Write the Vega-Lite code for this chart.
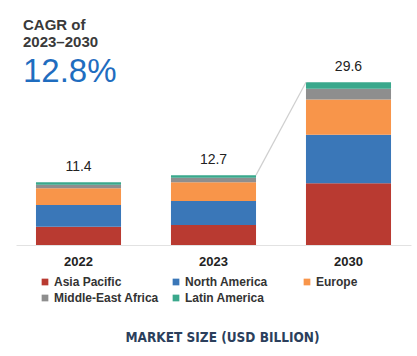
{
  "$schema": "https://vega.github.io/schema/vega-lite/v6.json",
  "width": 395,
  "height": 165,
  "autosize": {"type": "none"},
  "padding": {"left": 16, "top": 80, "right": 6, "bottom": 111},
  "background": "white",
  "config": {"view": {"stroke": null}, "font": "Liberation Sans"},
  "title": {
    "text": ["CAGR of", "2023–2030"],
    "subtitle": "12.8%",
    "anchor": "start",
    "frame": "group",
    "dx": 7,
    "offset": -29,
    "font": "Liberation Sans",
    "fontSize": 15,
    "fontWeight": "bold",
    "color": "#3a3a3a",
    "lineHeight": 17,
    "subtitleFont": "Liberation Sans",
    "subtitleFontSize": 33,
    "subtitleFontWeight": 500,
    "subtitleColor": "#1f6dbf",
    "subtitlePadding": 6
  },
  "datasets": {
    "segments": [
      {"year": "2022", "region": "Asia Pacific", "value": 3.33},
      {"year": "2022", "region": "North America", "value": 3.95},
      {"year": "2022", "region": "Europe", "value": 3.03},
      {"year": "2022", "region": "Middle-East Africa", "value": 0.65},
      {"year": "2022", "region": "Latin America", "value": 0.44},
      {"year": "2023", "region": "Asia Pacific", "value": 3.63},
      {"year": "2023", "region": "North America", "value": 4.36},
      {"year": "2023", "region": "Europe", "value": 3.44},
      {"year": "2023", "region": "Middle-East Africa", "value": 0.8},
      {"year": "2023", "region": "Latin America", "value": 0.47},
      {"year": "2030", "region": "Asia Pacific", "value": 11.25},
      {"year": "2030", "region": "North America", "value": 8.8},
      {"year": "2030", "region": "Europe", "value": 6.4},
      {"year": "2030", "region": "Middle-East Africa", "value": 1.95},
      {"year": "2030", "region": "Latin America", "value": 1.2}
    ],
    "totals": [
      {"year": "2022", "total": 11.4},
      {"year": "2023", "total": 12.7},
      {"year": "2030", "total": 29.6}
    ],
    "connector": [
      {"from": "2023", "to": "2030", "start": 12.7, "end": 29.6}
    ]
  },
  "encoding": {
    "x": {
      "field": "year",
      "type": "nominal",
      "scale": {"paddingInner": 0.37, "paddingOuter": 0.148},
      "axis": {
        "labelAngle": 0,
        "ticks": false,
        "domainColor": "#e2e2e2",
        "labelFont": "Liberation Sans",
        "labelFontSize": 13,
        "labelFontWeight": "bold",
        "labelColor": "#222222",
        "labelPadding": 10,
        "title": "MARKET SIZE (USD BILLION)",
        "titleFont": "Liberation Sans Narrow, DejaVu Sans Condensed, Liberation Sans",
        "titleFontSize": 13.5,
        "titleFontWeight": "bold",
        "titleColor": "#2b3f5c",
        "titlePadding": 62,
        "titleX": 206
      }
    }
  },
  "layer": [
    {
      "data": {"name": "segments"},
      "transform": [
        {"calculate": "indexof(['Asia Pacific', 'North America', 'Europe', 'Middle-East Africa', 'Latin America'], datum.region)", "as": "stackOrder"}
      ],
      "mark": {"type": "bar"},
      "encoding": {
        "y": {
          "field": "value",
          "type": "quantitative",
          "stack": "zero",
          "scale": {"domain": [0, 30]},
          "axis": null
        },
        "order": {"field": "stackOrder", "type": "quantitative", "sort": "ascending"},
        "color": {
          "field": "region",
          "type": "nominal",
          "sort": ["Asia Pacific", "North America", "Europe", "Middle-East Africa", "Latin America"],
          "scale": {
            "domain": ["Asia Pacific", "North America", "Europe", "Middle-East Africa", "Latin America"],
            "range": ["#b93a31", "#3a77b8", "#f8954a", "#8e8e8e", "#3aa88c"]
          },
          "legend": {
            "title": null,
            "orient": "none",
            "legendX": 23,
            "legendY": 196,
            "direction": "horizontal",
            "columns": 3,
            "gridAlign": "all",
            "columnPadding": 11,
            "rowPadding": 4,
            "symbolType": "square",
            "symbolSize": 45,
            "symbolOffset": 0,
            "labelOffset": 3,
            "labelFont": "Liberation Sans",
            "labelFontSize": 12,
            "labelFontWeight": "bold",
            "labelColor": "#333333"
          }
        }
      }
    },
    {
      "data": {"name": "totals"},
      "mark": {"type": "text", "baseline": "bottom", "dy": -8, "fontSize": 14, "font": "Liberation Sans", "color": "#222222"},
      "encoding": {
        "y": {"field": "total", "type": "quantitative"},
        "text": {"field": "total", "type": "quantitative", "format": ".1f"}
      }
    },
    {
      "data": {"name": "connector"},
      "mark": {"type": "rule", "color": "#cfcfcf", "strokeWidth": 1.2, "xOffset": 42.5, "x2Offset": -42.5},
      "encoding": {
        "x": {"field": "from", "type": "nominal"},
        "x2": {"field": "to"},
        "y": {"field": "start", "type": "quantitative"},
        "y2": {"field": "end"}
      }
    }
  ]
}
